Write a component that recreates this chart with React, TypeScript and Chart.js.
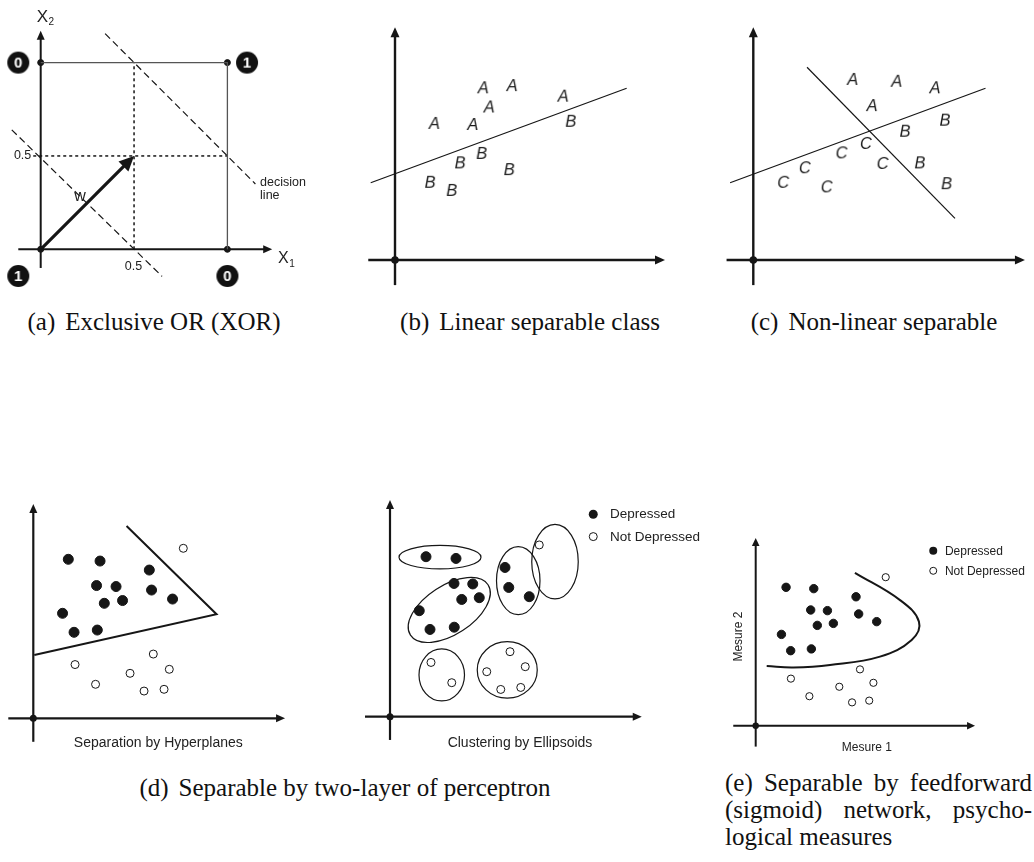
import React, { useEffect, useRef } from 'react';
import { Chart, registerables } from 'chart.js';
Chart.register(...registerables);

type P = [number, number];

// ---------------- (a) Exclusive OR ----------------
const xorCorners: P[] = [[0, 0], [0, 1], [1, 0], [1, 1]];
const xorOutputs = ['1', '0', '0', '1'];
const xorBadgeX = [-0.12, -0.12, 1.0, 1.105];
const xorBadgeY = [-0.143, 1.0, -0.143, 1.0];
const xorSquare: P[] = [[0, 1], [1, 1], [1, 0]];
const xorMidV: P[] = [[0.5, 0], [0.5, 1]];
const xorMidH: P[] = [[-0.04, 0.5], [1, 0.5]];
const xorDecisionUpper: P[] = [[0.345, 1.155], [1.15, 0.35]];
const xorDecisionLower: P[] = [[-0.155, 0.64], [0.65, -0.145]];
const xorWeight: P[] = [[0, 0], [0.5, 0.5]];
const xorTicks = [0.5];
const xorAxisNames = ['X', 'X'];
const xorAxisSubs = ['1', '2'];
const xorDecisionText = ['decision', 'line'];
const xorWeightText = 'w';

// ---------------- (b) Linear separable ----------------
const linA: P[] = [[3.27, 6.36], [4.34, 6.44], [6.23, 6.05], [3.49, 5.65], [1.46, 5.04], [2.88, 5.0]];
const linB: P[] = [[6.51, 5.12], [3.21, 3.93], [2.41, 3.58], [4.23, 3.33], [1.3, 2.86], [2.1, 2.56]];
const linBoundary: P[] = [[-0.9, 2.86], [8.58, 6.36]];

// ---------------- (c) Non-linear separable ----------------
const nlA: P[] = [[3.68, 6.67], [5.31, 6.6], [6.73, 6.36], [4.4, 5.7]];
const nlB: P[] = [[7.1, 5.16], [5.62, 4.75], [6.17, 3.58], [7.16, 2.81]];
const nlC: P[] = [[4.17, 4.3], [3.27, 3.95], [4.79, 3.56], [1.91, 3.4], [1.11, 2.86], [2.72, 2.69]];
const nlLine1: P[] = [[-0.86, 2.86], [8.6, 6.36]];
const nlLine2: P[] = [[1.99, 7.14], [7.47, 1.54]];
const classNames = ['A', 'B', 'C'];

// ---------------- (d) hyperplanes ----------------
const hypDep: P[] = [[1.4, 6.36], [2.67, 6.29], [4.64, 5.93], [2.53, 5.31], [3.31, 5.27], [4.73, 5.13], [5.57, 4.77], [2.84, 4.6], [3.57, 4.71], [1.17, 4.2], [1.63, 3.44], [2.56, 3.53]];
const hypNot: P[] = [[6.0, 6.8], [4.8, 2.57], [1.67, 2.15], [5.44, 1.96], [3.87, 1.8], [2.49, 1.36], [4.43, 1.09], [5.23, 1.16]];
const hypBoundary: P[] = [[3.73, 7.69], [7.33, 4.16], [0.04, 2.53]];

// ---------------- (d) ellipsoids ----------------
const cluDep: P[] = [[1.44, 6.4], [2.64, 6.33], [4.6, 5.97], [4.75, 5.17], [5.57, 4.8], [2.56, 5.33], [3.31, 5.31], [2.87, 4.69], [3.57, 4.76], [1.17, 4.24], [1.6, 3.49], [2.57, 3.58]];
const cluNot: P[] = [[5.97, 6.87], [4.8, 2.6], [1.64, 2.17], [5.41, 2.0], [3.87, 1.8], [2.47, 1.36], [4.43, 1.09], [5.23, 1.17]];
const cluEllipseCx = [2.0, 2.37, 5.13, 6.6, 2.07, 4.69];
const cluEllipseCy = [6.38, 4.27, 5.44, 6.2, 1.67, 1.87];
const cluEllipseRx = [1.64, 1.85, 0.87, 0.93, 0.91, 1.2];
const cluEllipseRy = [0.47, 0.98, 1.36, 1.49, 1.04, 1.13];
const cluEllipseAngle = [0, 33, 0, 0, 0, 0];

// ---------------- (e) feedforward ----------------
const mesDep: P[] = [[1.38, 6.29], [2.64, 6.23], [4.56, 5.86], [2.5, 5.26], [3.26, 5.23], [4.68, 5.08], [5.5, 4.73], [2.8, 4.56], [3.53, 4.65], [1.17, 4.15], [1.59, 3.41], [2.53, 3.49]];
const mesNot: P[] = [[5.91, 6.75], [4.74, 2.56], [1.6, 2.14], [5.35, 1.95], [3.8, 1.77], [2.44, 1.34], [4.38, 1.06], [5.16, 1.14]];
const mesBoundary: P[] = [[4.51, 6.95], [6.56, 5.71], [7.42, 4.73], [7.09, 3.9], [5.65, 3.14], [3.38, 2.76], [1.71, 2.65], [0.5, 2.71]];
const mesAxisNames = ['Mesure 1', 'Mesure 2'];

const seriesNames = ['Depressed', 'Not Depressed'];
const panelTitles = ['Separation by Hyperplanes', 'Clustering by Ellipsoids'];
const captions = [
  ['(a)', 'Exclusive OR (XOR)'],
  ['(b)', 'Linear separable class'],
  ['(c)', 'Non-linear separable'],
  ['(d)', 'Separable by two-layer of perceptron'],
  ['(e)', 'Separable by feedforward (sigmoid) network, psycho-\u200Blogical measures'],
];

// ---------------- helpers ----------------
const SANS = '"Liberation Sans", Arial, sans-serif';
const SERIF = '"Liberation Serif", "Times New Roman", serif';
const INK = '#161616';

const pts = (a: P[]) => a.map(([x, y]) => ({ x, y }));

const lineDs = (a: P[], o: any = {}) => ({
  data: pts(a), showLine: true, pointRadius: 0, borderColor: INK, borderWidth: 1.2,
  fill: false, clip: false, tension: 0, ...o,
});
const dotDs = (a: P[], o: any = {}) => ({
  data: pts(a), showLine: false, pointRadius: 5, pointBackgroundColor: INK,
  pointBorderColor: INK, pointBorderWidth: 1, clip: false, ...o,
});

function glyph(text: string, size: number, opts: any = {}) {
  const w = opts.w || 22, h = opts.h || 22;
  const c = document.createElement('canvas');
  c.width = w; c.height = h;
  const g = c.getContext('2d')!;
  if (opts.bg) {
    g.fillStyle = opts.bg;
    g.beginPath(); g.arc(w / 2, h / 2, opts.r, 0, Math.PI * 2); g.fill();
  }
  g.fillStyle = opts.color || '#222';
  g.font = `${opts.italic ? 'italic ' : ''}${opts.bold ? 'bold ' : ''}${size}px ${SANS}`;
  g.textAlign = 'center'; g.textBaseline = 'middle';
  g.fillText(text, w / 2, h / 2 + (opts.dy || 0));
  return c;
}

function drawHead(ctx: CanvasRenderingContext2D, x0: number, y0: number, x1: number, y1: number, len: number, half: number) {
  const a = Math.atan2(y1 - y0, x1 - x0);
  const bx = x1 - len * Math.cos(a), by = y1 - len * Math.sin(a);
  ctx.beginPath();
  ctx.moveTo(x1, y1);
  ctx.lineTo(bx + half * Math.sin(a), by - half * Math.cos(a));
  ctx.lineTo(bx - half * Math.sin(a), by + half * Math.cos(a));
  ctx.closePath(); ctx.fill();
}

function drawArrow(ctx: CanvasRenderingContext2D, x0: number, y0: number, x1: number, y1: number, width: number, len: number, half: number) {
  const a = Math.atan2(y1 - y0, x1 - x0);
  ctx.lineWidth = width;
  ctx.beginPath(); ctx.moveTo(x0, y0);
  ctx.lineTo(x1 - (len - 1) * Math.cos(a), y1 - (len - 1) * Math.sin(a));
  ctx.stroke();
  drawHead(ctx, x0, y0, x1, y1, len, half);
}

function makeDeco(deco: any) {
  return {
    id: 'deco',
    beforeDatasetsDraw(chart: any) {
      const ctx: CanvasRenderingContext2D = chart.ctx;
      const X = (v: number) => chart.scales.x.getPixelForValue(v);
      const Y = (v: number) => chart.scales.y.getPixelForValue(v);
      ctx.save();
      ctx.strokeStyle = INK; ctx.fillStyle = INK;
      (deco.ellipses || []).forEach((e: any) => {
        ctx.lineWidth = e.width || 1.2;
        ctx.beginPath();
        ctx.ellipse(X(e.cx), Y(e.cy), Math.abs(X(e.cx + e.rx) - X(e.cx)), Math.abs(Y(e.cy + e.ry) - Y(e.cy)), -e.angle * Math.PI / 180, 0, Math.PI * 2);
        ctx.stroke();
      });
      const ax = deco.axes;
      if (ax) {
        ctx.lineCap = 'butt';
        drawArrow(ctx, X(ax.x[0]), Y(0), X(ax.x[1]), Y(0), ax.width, ax.head[0], ax.head[1]);
        drawArrow(ctx, X(0), Y(ax.y[0]), X(0), Y(ax.y[1]), ax.width, ax.head[0], ax.head[1]);
        ctx.beginPath(); ctx.arc(X(0), Y(0), ax.dot, 0, Math.PI * 2); ctx.fill();
      }
      ctx.restore();
    },
    afterDatasetsDraw(chart: any) {
      const ctx: CanvasRenderingContext2D = chart.ctx;
      const X = (v: number) => chart.scales.x.getPixelForValue(v);
      const Y = (v: number) => chart.scales.y.getPixelForValue(v);
      ctx.save();
      ctx.strokeStyle = INK; ctx.fillStyle = INK;
      (deco.arrows || []).forEach((a: any) => {
        drawArrow(ctx, X(a.from[0]), Y(a.from[1]), X(a.to[0]), Y(a.to[1]), a.width, a.head[0], a.head[1]);
      });
      (deco.texts || []).forEach((t: any) => {
        ctx.save();
        ctx.fillStyle = t.color || '#222';
        ctx.font = `${t.italic ? 'italic ' : ''}${t.size}px ${SANS}`;
        ctx.textAlign = t.align || 'center';
        ctx.textBaseline = t.baseline || 'middle';
        ctx.translate(X(t.x), Y(t.y));
        if (t.rotate) ctx.rotate(t.rotate * Math.PI / 180);
        ctx.fillText(t.text, 0, 0);
        if (t.sub) {
          const w = ctx.measureText(t.text).width;
          ctx.font = `${t.subSize}px ${SANS}`;
          ctx.textAlign = 'left';
          ctx.fillText(t.sub, w + 0.5, t.subSize * 0.35);
        }
        ctx.restore();
      });
      const lg = deco.legend;
      if (lg) {
        lg.items.forEach((it: any, i: number) => {
          const px = X(lg.x), py = Y(lg.y) + i * lg.dy;
          ctx.beginPath(); ctx.arc(px, py, it.r, 0, Math.PI * 2);
          ctx.lineWidth = 1;
          if (it.filled) { ctx.fillStyle = INK; ctx.fill(); } else { ctx.fillStyle = '#fff'; ctx.fill(); ctx.strokeStyle = INK; ctx.stroke(); }
          ctx.fillStyle = '#222';
          ctx.font = `${lg.size}px ${SANS}`;
          ctx.textAlign = 'left'; ctx.textBaseline = 'middle';
          ctx.fillText(it.label, X(lg.tx), py + 0.5);
        });
      }
      ctx.restore();
    },
  };
}

type Spec = {
  left: number; top: number; width: number; height: number;
  ox: number; oy: number; unit: number;
  datasets: () => any[]; deco: any;
};

function Panel({ spec }: { spec: Spec }) {
  const ref = useRef<HTMLCanvasElement>(null);
  useEffect(() => {
    const s = spec;
    const xmin = (s.left - s.ox) / s.unit, xmax = (s.left + s.width - s.ox) / s.unit;
    const ymax = (s.oy - s.top) / s.unit, ymin = (s.oy - s.top - s.height) / s.unit;
    const chart = new Chart(ref.current!, {
      type: 'scatter',
      data: { datasets: s.datasets() },
      options: {
        responsive: false, animation: false, events: [],
        layout: { padding: 0, autoPadding: false },
        plugins: { legend: { display: false }, tooltip: { enabled: false } },
        scales: {
          x: { type: 'linear', display: false, min: xmin, max: xmax },
          y: { type: 'linear', display: false, min: ymin, max: ymax },
        },
      } as any,
      plugins: [makeDeco(s.deco)],
    });
    return () => chart.destroy();
  }, []);
  return (
    <canvas ref={ref} width={spec.width} height={spec.height}
      style={{ position: 'absolute', left: spec.left, top: spec.top, width: spec.width, height: spec.height }} />
  );
}

const letterStyle = (l: string) => glyph(l, 16.5, { italic: true, color: '#1a1a1a', w: 24, h: 24 });

const specs: Spec[] = [
  {
    left: 0, top: 0, width: 330, height: 300, ox: 40.7, oy: 249.3, unit: 186.7,
    datasets: () => [
      lineDs(xorSquare, { borderColor: '#555', borderWidth: 1.3 }),
      lineDs(xorMidV, { borderDash: [3, 3], borderWidth: 1.5 }),
      lineDs(xorMidH, { borderDash: [3, 3], borderWidth: 1.5 }),
      lineDs(xorDecisionUpper, { borderDash: [7, 4], borderWidth: 1.2 }),
      lineDs(xorDecisionLower, { borderDash: [7, 4], borderWidth: 1.2 }),
      dotDs(xorCorners, { pointRadius: 3 }),
      {
        data: xorOutputs.map((_, i) => ({ x: xorBadgeX[i], y: xorBadgeY[i] })),
        showLine: false, clip: false,
        pointStyle: xorOutputs.map((t) => glyph(t, 15, { bold: true, color: '#fff', bg: '#111', r: 11, w: 24, h: 24, dy: 1 })),
      },
    ],
    deco: {
      axes: { x: [-0.12, 1.24], y: [-0.1, 1.17], width: 2, head: [9, 4], dot: 0 },
      arrows: [{ from: xorWeight[0], to: xorWeight[1], width: 3.2, head: [15, 7] }],
      texts: [
        { text: String(xorTicks[0]), x: -0.097, y: 0.5, size: 12.5 },
        { text: String(xorTicks[0]), x: 0.497, y: -0.093, size: 12.5 },
        { text: xorDecisionText[0], x: 1.175, y: 0.355, size: 12.5, align: 'left' },
        { text: xorDecisionText[1], x: 1.175, y: 0.288, size: 12.5, align: 'left' },
        { text: xorWeightText, x: 0.21, y: 0.28, size: 16 },
        { text: xorAxisNames[1], sub: xorAxisSubs[1], x: -0.021, y: 1.219, size: 17, subSize: 10, align: 'left', baseline: 'alphabetic' },
        { text: xorAxisNames[0], sub: xorAxisSubs[0], x: 1.271, y: -0.075, size: 16, subSize: 10, align: 'left', baseline: 'alphabetic' },
      ],
    },
  },
  {
    left: 340, top: 0, width: 345, height: 300, ox: 395, oy: 260, unit: 27,
    datasets: () => [
      lineDs(linBoundary),
      dotDs(linA, { pointStyle: letterStyle(classNames[0]) }),
      dotDs(linB, { pointStyle: letterStyle(classNames[1]) }),
    ],
    deco: { axes: { x: [-0.99, 10.0], y: [-0.93, 8.62], width: 2.4, head: [10, 4.5], dot: 3.8 } },
  },
  {
    left: 690, top: 0, width: 344, height: 300, ox: 753.3, oy: 260, unit: 27,
    datasets: () => [
      lineDs(nlLine1),
      lineDs(nlLine2),
      dotDs(nlA, { pointStyle: letterStyle(classNames[0]) }),
      dotDs(nlB, { pointStyle: letterStyle(classNames[1]) }),
      dotDs(nlC, { pointStyle: letterStyle(classNames[2]) }),
    ],
    deco: { axes: { x: [-0.99, 10.06], y: [-0.93, 8.62], width: 2.4, head: [10, 4.5], dot: 3.8 } },
  },
  {
    left: 0, top: 480, width: 350, height: 280, ox: 33.3, oy: 718.3, unit: 25,
    datasets: () => [
      lineDs(hypBoundary, { borderWidth: 2 }),
      dotDs(hypDep, { pointRadius: 5 }),
      dotDs(hypNot, { pointRadius: 4, pointBackgroundColor: '#fff', pointBorderWidth: 1 }),
    ],
    deco: {
      axes: { x: [-1.0, 10.07], y: [-0.94, 8.57], width: 2.2, head: [9, 4], dot: 3.5 },
      texts: [{ text: panelTitles[0], x: 5.0, y: -0.99, size: 14 }],
    },
  },
  {
    left: 350, top: 480, width: 370, height: 285, ox: 390, oy: 716.7, unit: 25,
    datasets: () => [
      dotDs(cluDep, { pointRadius: 5 }),
      dotDs(cluNot, { pointRadius: 4, pointBackgroundColor: '#fff', pointBorderWidth: 1 }),
    ],
    deco: {
      axes: { x: [-1.0, 10.07], y: [-0.93, 8.67], width: 2.2, head: [9, 4], dot: 3.5 },
      ellipses: cluEllipseCx.map((cx, i) => ({ cx, cy: cluEllipseCy[i], rx: cluEllipseRx[i], ry: cluEllipseRy[i], angle: cluEllipseAngle[i], width: 1.2 })),
      texts: [{ text: panelTitles[1], x: 5.2, y: -1.05, size: 14 }],
      legend: { x: 8.13, y: 8.1, dy: 22.4, tx: 8.8, size: 13.5, items: [{ label: seriesNames[0], filled: true, r: 4.5 }, { label: seriesNames[1], filled: false, r: 4 }] },
    },
  },
  {
    left: 720, top: 520, width: 314, height: 245, ox: 755.7, oy: 725.7, unit: 22,
    datasets: () => [
      lineDs(mesBoundary, { borderWidth: 2, tension: 0.4 }),
      dotDs(mesDep, { pointRadius: 4.2 }),
      dotDs(mesNot, { pointRadius: 3.6, pointBackgroundColor: '#fff', pointBorderWidth: 1 }),
    ],
    deco: {
      axes: { x: [-1.02, 9.97], y: [-0.95, 8.53], width: 2, head: [8, 3.8], dot: 3.2 },
      texts: [
        { text: mesAxisNames[0], x: 5.05, y: -0.98, size: 12 },
        { text: mesAxisNames[1], x: -0.79, y: 4.05, size: 12, rotate: -90 },
      ],
      legend: { x: 8.07, y: 7.95, dy: 20, tx: 8.6, size: 12, items: [{ label: seriesNames[0], filled: true, r: 4 }, { label: seriesNames[1], filled: false, r: 3.5 }] },
    },
  },
];

const capStyle: React.CSSProperties = {
  position: 'absolute', fontFamily: SERIF, fontSize: 25, lineHeight: '28px', color: '#111', whiteSpace: 'nowrap',
};

function Caption({ i, cx, top }: { i: number; cx: number; top: number }) {
  return (
    <div style={{ ...capStyle, left: cx - 250, width: 500, top, textAlign: 'center' }}>
      {captions[i][0]}<span style={{ marginLeft: 10 }}>{captions[i][1]}</span>
    </div>
  );
}

export default function App() {
  return (
    <div style={{ position: 'absolute', left: 0, top: 0, width: 1034, height: 862, background: '#fff', overflow: 'hidden' }}>
      {specs.map((s, i) => <Panel key={i} spec={s} />)}
      <Caption i={0} cx={154} top={308} />
      <Caption i={1} cx={530} top={308} />
      <Caption i={2} cx={874} top={308} />
      <Caption i={3} cx={345} top={774} />
      <div style={{ ...capStyle, whiteSpace: 'normal', lineHeight: '27px', left: 725, width: 307, top: 769, textAlign: 'justify', textAlignLast: 'left' as any }}>
        {captions[4][0]} {captions[4][1]}
      </div>
    </div>
  );
}
